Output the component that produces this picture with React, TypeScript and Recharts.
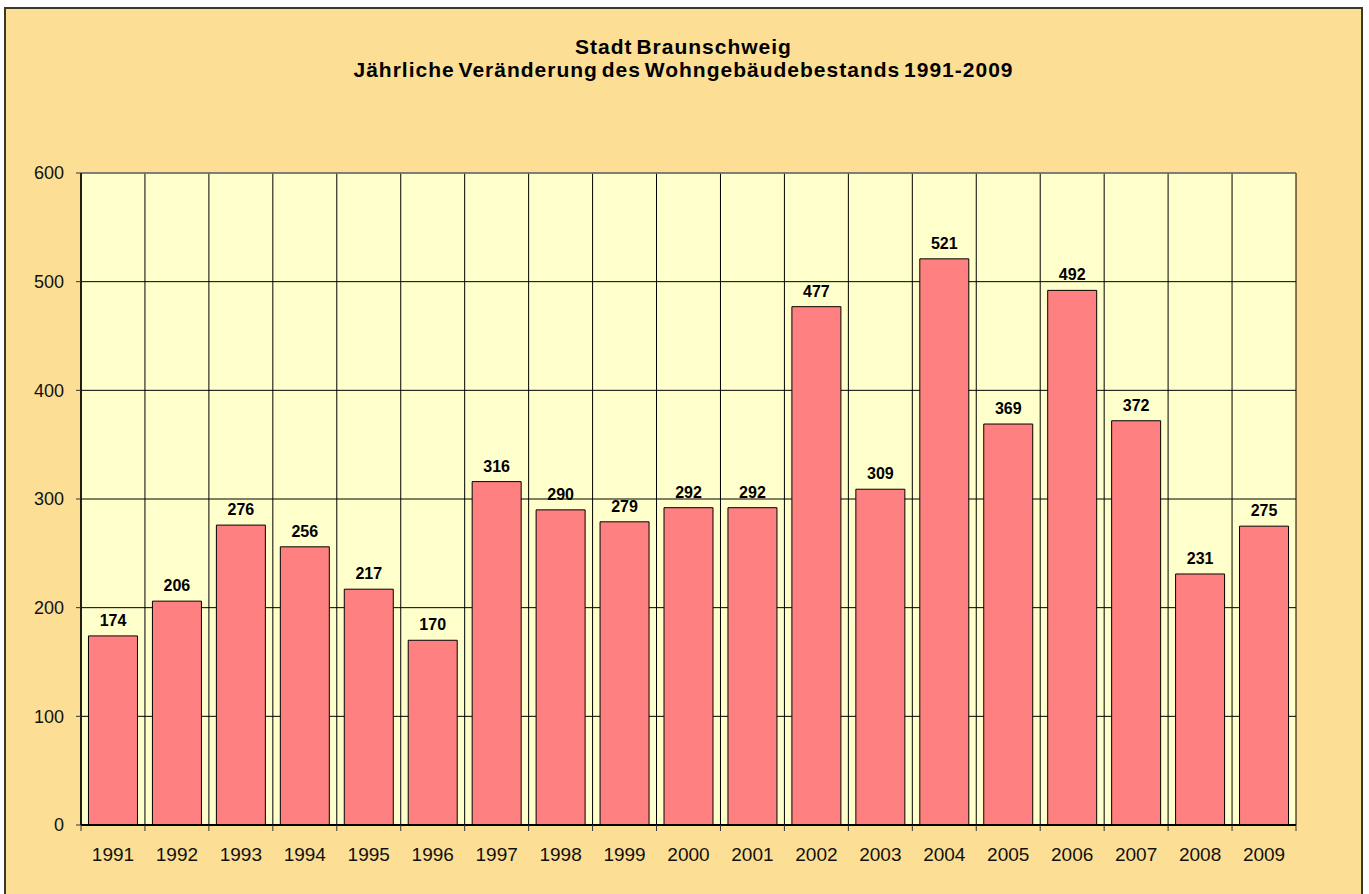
import React from 'react';
import { BarChart, Bar, XAxis, YAxis, CartesianGrid, LabelList, ReferenceLine } from 'recharts';

const years = ['1991', '1992', '1993', '1994', '1995', '1996', '1997', '1998', '1999', '2000', '2001', '2002', '2003', '2004', '2005', '2006', '2007', '2008', '2009'];
const changes = [174, 206, 276, 256, 217, 170, 316, 290, 279, 292, 292, 477, 309, 521, 369, 492, 372, 231, 275];
const yTicks = [0, 100, 200, 300, 400, 500, 600];

const titleLines = ['Stadt Braunschweig', 'Jährliche Veränderung des Wohngebäudebestands 1991-2009'];

const FONT = '"Liberation Sans", Arial, sans-serif';

// category boundaries for the vertical grid lines
function gridColumns(props: any) {
  const off = props.offset || {};
  const n = years.length;
  const pts: number[] = [];
  for (let i = 0; i <= n; i++) pts.push(off.left + (i * off.width) / n);
  return pts;
}

function YearTick(props: any) {
  const { x, y, payload, index } = props;
  const half = payload && payload.offset ? payload.offset : 32;
  return (
    <g>
      <line x1={x - half} y1={y} x2={x - half} y2={y + 6} stroke="#333" />
      {index === years.length - 1 && <line x1={x + half} y1={y} x2={x + half} y2={y + 6} stroke="#333" />}
      <text x={x} y={y + 36} textAnchor="middle" fontSize={19} fontFamily={FONT} fill="#111">
        {payload.value}
      </text>
    </g>
  );
}

export default function App() {
  const data = years.map((year, i) => ({ year, value: changes[i] }));

  return (
    <div
      style={{
        position: 'absolute',
        left: 4,
        top: 7,
        width: 1359,
        height: 900,
        boxSizing: 'border-box',
        border: '2px solid #3a3a2a',
        background: '#FCDF94',
        fontFamily: FONT,
      }}
    >
      <div
        style={{
          position: 'absolute',
          left: 0,
          right: 0,
          top: 26,
          textAlign: 'center',
          fontWeight: 'bold',
          fontSize: 21,
          lineHeight: '23px',
          wordSpacing: -3,
          letterSpacing: 1,
          color: '#000',
        }}
      >
        {titleLines.map((t) => (
          <div key={t}>{t}</div>
        ))}
      </div>
      <div style={{ position: 'absolute', left: 0, top: 0 }}>
        <BarChart
          width={1355}
          height={885}
          data={data}
          margin={{ top: 164, right: 65, left: 0, bottom: 39 }}
          barCategoryGap="11.7%"
        >
          <CartesianGrid
            fill="#FFFFCC"
            stroke="#000"
            strokeOpacity={1}
            verticalCoordinatesGenerator={gridColumns}
          />
          <ReferenceLine y={600} stroke="#808080" strokeWidth={1.5} />
          <XAxis
            dataKey="year"
            axisLine={{ stroke: '#000', strokeWidth: 2 }}
            tickLine={false}
            tickSize={0}
            tickMargin={0}
            tick={<YearTick />}
            interval={0}
            height={30}
          />
          <YAxis
            domain={[0, 600]}
            ticks={yTicks}
            width={75}
            axisLine={{ stroke: '#000', strokeWidth: 1.5 }}
            tickLine={{ stroke: '#333' }}
            tickSize={5}
            tickMargin={12}
            tick={{ fontSize: 18, fontFamily: FONT, fill: '#111' }}
          />
          <Bar dataKey="value" fill="#FF8080" stroke="#000" strokeWidth={1} isAnimationActive={false}>
            <LabelList
              dataKey="value"
              position="top"
              offset={10}
              style={{ fontSize: 16, fontWeight: 'bold', fontFamily: FONT, fill: '#000' }}
            />
          </Bar>
        </BarChart>
      </div>
    </div>
  );
}
